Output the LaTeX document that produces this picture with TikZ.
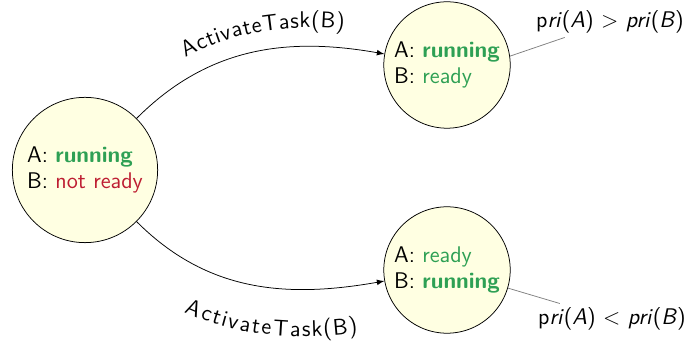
\documentclass[tikz,border=0pt]{standalone}
\usetikzlibrary{decorations.text}
\renewcommand{\familydefault}{\sfdefault}
\definecolor{stategreen}{RGB}{46,160,84}
\definecolor{statered}{RGB}{190,30,50}
\definecolor{statefill}{RGB}{255,255,226}
\begin{document}
\begin{tikzpicture}
  [x=0.53pt,y=0.53pt,every node/.style={font=\large},
   state/.style={circle,draw,thin,fill=statefill,align=left,inner sep=0pt},
   prio/.style={inner sep=2pt}]
  \useasboundingbox (0,0) rectangle (694,347);
  \node[state,minimum size=77pt] (s0) at (85,177)
    {A: \textcolor{stategreen}{\textbf{running}}\\B: \textcolor{statered}{not ready}};
  \node[state,minimum size=67pt] (s1) at (447,282)
    {A: \textcolor{stategreen}{\textbf{running}}\\B: \textcolor{stategreen}{ready}};
  \node[state,minimum size=67pt] (s2) at (447,77)
    {A: \textcolor{stategreen}{ready}\\B: \textcolor{stategreen}{\textbf{running}}};
  \node[prio] (l1) at (610,325) {p\textit{ri}(\textit{A}) $>$ \textit{pri}(\textit{B})};
  \node[prio] (l2) at (612,28) {p\textit{ri}(\textit{A}) $<$ \textit{pri}(\textit{B})};
 \path[-latex,draw]
    (s0) edge [out=45,in=170,postaction={decorate,decoration={text along path,
      text={|\large|ActivateTask(B)},text align={center,left indent=16pt},raise=10pt}}] (s1)
    (s0) edge [out=-45,in=190,postaction={decorate,decoration={text along path,
      text={|\large|ActivateTask(B)},text align={center,left indent=26pt},raise=-25pt}}] (s2)
    ;
 \path[draw,gray]
    (s1.8) edge (l1)
    (s2) edge (l2)
    ;
\end{tikzpicture}
\end{document}
